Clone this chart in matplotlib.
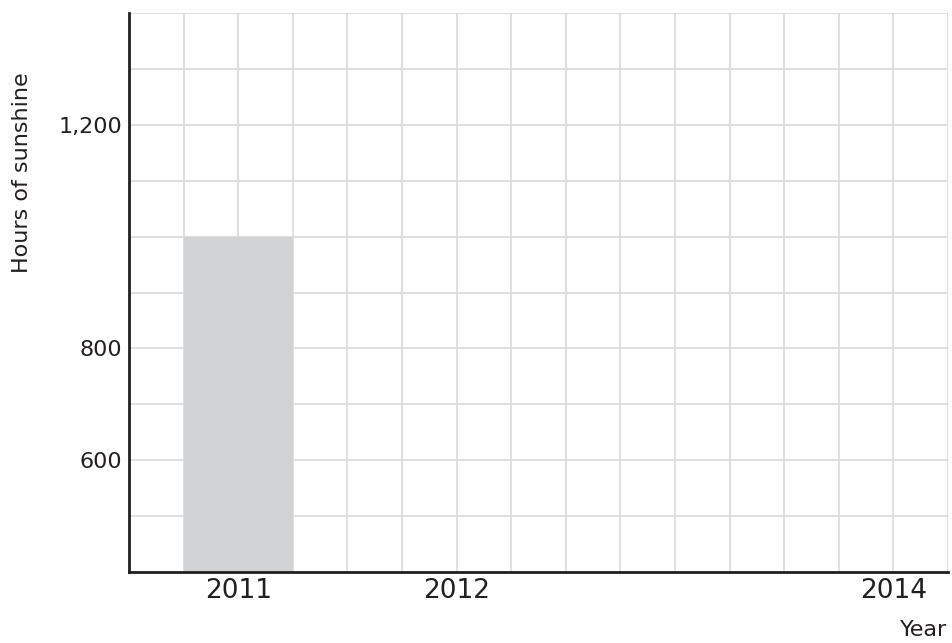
import matplotlib
matplotlib.use("Agg")
import matplotlib.pyplot as plt
import numpy as np

years = ["2011", "2012", "2013", "2014"]
shown_year_labels = ["2011", "2012", "", "2014"]
hours = [1000]              # only the 2011 bar is drawn
bar_years = ["2011"]
ytick_values = [600, 800, 1200]
ytick_labels = ["600", "800", "1,200"]

plt.rcParams['font.family'] = ['DejaVu Sans']
fig = plt.figure(figsize=(9.53, 6.43), dpi=100)
ax = fig.add_axes([129/953, 1 - 572/643, (948-129)/953, (572-13)/643])

xpos = np.arange(len(years))
bar_x = [years.index(y) for y in bar_years]
ax.bar(bar_x, hours, width=0.5, color='#d1d2d4', zorder=2, linewidth=0)

ax.set_xlim(-0.5, 3.25)
ax.set_ylim(400, 1400)

# grid
for gx in np.arange(-0.25, 3.26, 0.25):
    ax.axvline(gx, color='#d9d9d9', linewidth=1.2, zorder=0)
for gy in np.arange(500, 1401, 100):
    ax.axhline(gy, color='#d9d9d9', linewidth=1.2, zorder=0)

ax.set_xticks(xpos)
ax.set_xticklabels(shown_year_labels, fontsize=19, color='#231f20')
ax.set_yticks(ytick_values)
ax.set_yticklabels(ytick_labels, fontsize=16, color='#231f20')
ax.tick_params(which='both', length=0)
ax.tick_params(axis='x', pad=4)
ax.tick_params(axis='y', pad=5)

for s in ['top', 'right']:
    ax.spines[s].set_visible(False)
for s in ['left', 'bottom']:
    ax.spines[s].set_linewidth(2)
    ax.spines[s].set_color('#231f20')
    ax.spines[s].set_zorder(3)

fig.text(22/953, 1 - 173/643, "Hours of sunshine", rotation=90, ha='center', va='center',
         fontsize=16, color='#231f20')
fig.text(900/953, 1 - 630/643, "Year", ha='left', va='center', fontsize=16, color='#231f20')

fig.savefig("out.png", dpi=100)
